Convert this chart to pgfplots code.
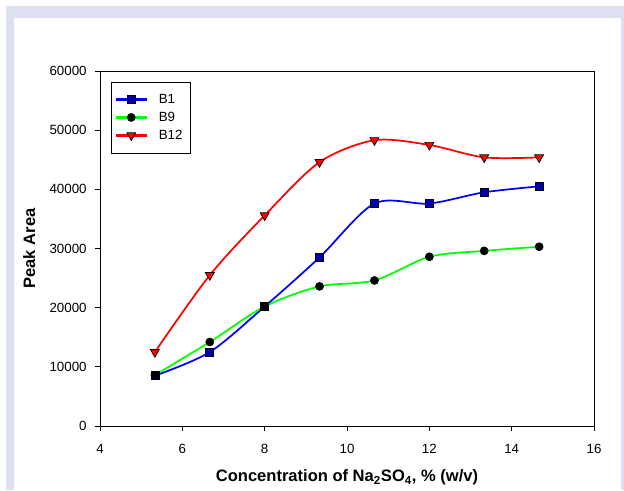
\documentclass[border=0pt]{standalone}
\usepackage{fontspec}
\setmainfont{Liberation Sans}
\usepackage{pgfplots}
\pgfplotsset{compat=1.18}
\definecolor{framegray}{RGB}{220,224,239}
\definecolor{sqblue}{RGB}{0,0,170}
\definecolor{lgblue}{RGB}{0,0,255}
\definecolor{lggreen}{RGB}{0,255,0}
\definecolor{lgred}{RGB}{255,0,0}
\begin{document}
\begin{tikzpicture}
\useasboundingbox (0pt,0pt) rectangle (468pt,367.5pt);
\fill[framegray] (4.5pt,0pt) rectangle (468pt,363pt);
\fill[white] (10.5pt,0pt) rectangle (465.75pt,354pt);
\begin{axis}[
  scale only axis, width=370.5pt, height=266.25pt,
  at={(75pt,48pt)}, anchor=south west,
  xmin=4, xmax=16, ymin=0, ymax=60000,
  xtick={4,6,...,16}, ytick={0,10000,...,60000},
  scaled y ticks=false,
  /pgf/number format/1000 sep={},
  /pgf/number format/assume math mode=true,
  tick align=outside, xtick pos=bottom, ytick pos=left,
  major tick length=3.5pt,
  axis line style={line width=0.6pt},
  every tick/.style={black, line width=0.6pt},
  tick label style={font=\fontsize{10}{12}\selectfont},
  xticklabel style={yshift=-6.5pt},
  yticklabel style={xshift=-3pt},
  xlabel={\textbf{Concentration of Na\textsubscript{2}SO\textsubscript{4}, \% (w/v)}},
  ylabel={\textbf{Peak Area}},
  label style={font=\fontsize{12.4}{15}\selectfont},
  xlabel style={at={(axis description cs:0.5,-0.1569)}, anchor=base},
  ylabel style={at={(axis description cs:-0.1431,0.5)}, anchor=center},
  legend style={at={(axis description cs:0.0217,0.970)}, anchor=north west,
    font=\fontsize{10}{12}\selectfont,
    inner xsep=3.5pt, inner ysep=7pt, row sep=1pt, column sep=7pt},
  legend cell align=left,
]
\addlegendimage{legend image code/.code={
  \fill[lgblue] (0pt,-0.65pt) rectangle (23pt,0.65pt);
  \filldraw[draw=black, fill=sqblue, line width=0.5pt] (8.5pt,-3pt) rectangle (14.5pt,3pt);}}
\addlegendentry{B1}
\addlegendimage{legend image code/.code={
  \fill[lggreen] (0pt,-0.65pt) rectangle (23pt,0.65pt);
  \filldraw[draw=black, fill=black, line width=0.5pt] (11.5pt,0pt) circle[radius=3pt];}}
\addlegendentry{B9}
\addlegendimage{legend image code/.code={
  \fill[lgred] (0pt,-0.65pt) rectangle (23pt,0.65pt);
  \filldraw[draw=black, fill=lgred, line width=0.5pt, line join=round] (11.5pt,-3.9pt) -- (14.88pt,1.95pt) -- (8.12pt,1.95pt) -- cycle;}}
\addlegendentry{B12}
\addplot[forget plot, blue, line width=1.3pt, smooth, mark=square*, mark size=3pt,
  mark options={fill=sqblue, draw=black, line width=0.5pt}] coordinates {
  (5.333,8500) (6.667,12500) (8,20200) (9.333,28500) (10.667,37600) (12,37600) (13.333,39500) (14.667,40500)};
\addplot[forget plot, green, line width=1.3pt, smooth, mark=*, mark size=3pt,
  mark options={fill=black, draw=black, line width=0.5pt}] coordinates {
  (5.333,8600) (6.667,14200) (8,20200) (9.333,23600) (10.667,24600) (12,28600) (13.333,29600) (14.667,30300)};
\addplot[forget plot, red, line width=1.3pt, smooth, mark=triangle*, mark size=3.9pt,
  mark options={fill=red, draw=black, line width=0.5pt, rotate=180}] coordinates {
  (5.333,12500) (6.667,25500) (8,35600) (9.333,44600) (10.667,48300) (12,47500) (13.333,45400) (14.667,45400)};
\end{axis}
\end{tikzpicture}
\end{document}
